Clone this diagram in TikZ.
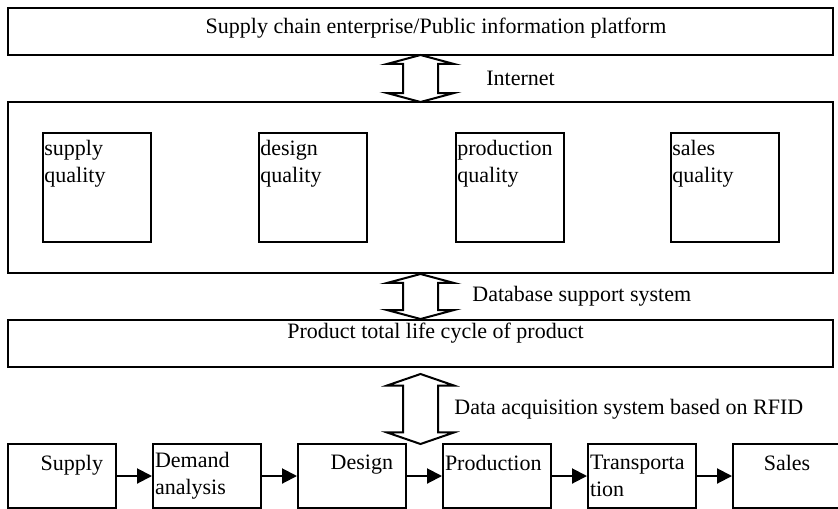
\documentclass[tikz,border=0pt]{standalone}
\usepackage{fontspec}
\setmainfont{Liberation Serif}
\usetikzlibrary{shapes.arrows, arrows.meta, positioning, calc}

\begin{document}
\begin{tikzpicture}[
      x=0.5pt, y=-0.5pt,
      font=\fontsize{11}{13.5}\selectfont,
      node distance=17.5pt,
      box/.style={draw, line width=1pt, anchor=north west, inner sep=0pt},
      widebox/.style={box, minimum width=412.5pt, minimum height=23.5pt},
      qualbox/.style={box, minimum width=54pt, minimum height=54.5pt},
      qualtext/.style={anchor=north west, align=left, inner sep=1pt},
      stagebox/.style={draw, line width=1pt, minimum width=54pt,
                  minimum height=32pt, text width=52pt, inner xsep=1pt,
                  inner ysep=0pt, align=left},
      dblarrow/.style={double arrow, draw, line width=1pt, fill=white,
                  shape border rotate=90, text width=16.5pt,
                  double arrow head extend=8pt,
                  double arrow tip angle=150, inner sep=0pt},
      arrow/.style={-{Triangle[length=7.5pt, width=7.5pt]}, line width=1pt},
      lbl/.style={inner sep=0pt}
    ]
    \useasboundingbox (0,0) rectangle (838,508);

    % top layer
    \node[widebox] (platform) at (7,7) {};
    \node[lbl] (platformtext) at ([xshift=7.75pt, yshift=1.75pt]platform.center)
      {Supply chain enterprise/Public information platform};

    % quality layer
    \node[box, minimum width=412.5pt, minimum height=85.5pt] (board) at (7,101) {};
    \node[qualbox] (supplyq) at (42,132) {};
    \node[qualbox] (designq) at (258,132) {};
    \node[qualbox] (prodq)   at (455,132) {};
    \node[qualbox] (salesq)  at (670,132) {};
    \node[qualtext] (supplyqt) at ([yshift=-3pt]supplyq.north west) {supply\\quality};
    \node[qualtext] (designqt) at ([yshift=-3pt]designq.north west) {design\\quality};
    \node[qualtext] (prodqt)   at ([yshift=-3pt]prodq.north west)   {production\\quality};
    \node[qualtext] (salesqt)  at ([yshift=-3pt]salesq.north west)  {sales\\quality};

    % life cycle layer
    \node[widebox] (lifecycle) at (7,319) {};
    \node[lbl] (lifecycletext) at ([xshift=7.5pt, yshift=-7pt]lifecycle.north)
      {Product total life cycle of product};

    % stages
    \node[stagebox, anchor=north west, align=right] (supply) at (7,443) {Supply\enspace\\~};
    \node[stagebox, right=of supply]    (demand)    {Demand\\analysis};
    \node[stagebox, right=of demand, align=right] (design) {Design\enspace\\~};
    \node[stagebox, right=of design]    (production) {Production\\~};
    \node[stagebox, right=of production] (transport) {Transporta\\tion};
    \node[stagebox, right=of transport, align=center] (sales) {Sales\\~};
    \draw[arrow] (supply) -- (demand);
    \draw[arrow] (demand) -- (design);
    \draw[arrow] (design) -- (production);
    \draw[arrow] (production) -- (transport);
    \draw[arrow] (transport) -- (sales);

    % links between layers
    \node[dblarrow, minimum height=23.5pt] (internet)
      at ($(platform.south)!0.5!(board.north)$) {};
    \node[dblarrow, minimum height=22.5pt] (database)
      at ($(board.south)!0.5!(lifecycle.north)$) {};
    \node[dblarrow, minimum height=35pt, double arrow tip angle=142, yshift=-1.75pt] (rfid)
      at ($(lifecycle.south)!0.5!(lifecycle.south |- design.north)$) {};
    \node[lbl, right=23.5pt of internet] (internettext) {Internet};
    \node[lbl, right=16.5pt of database] (databasetext) {Database support system};
    \node[lbl, right=7.5pt of rfid] (rfidtext) {Data acquisition system based on RFID};
  \end{tikzpicture}
\end{document}
